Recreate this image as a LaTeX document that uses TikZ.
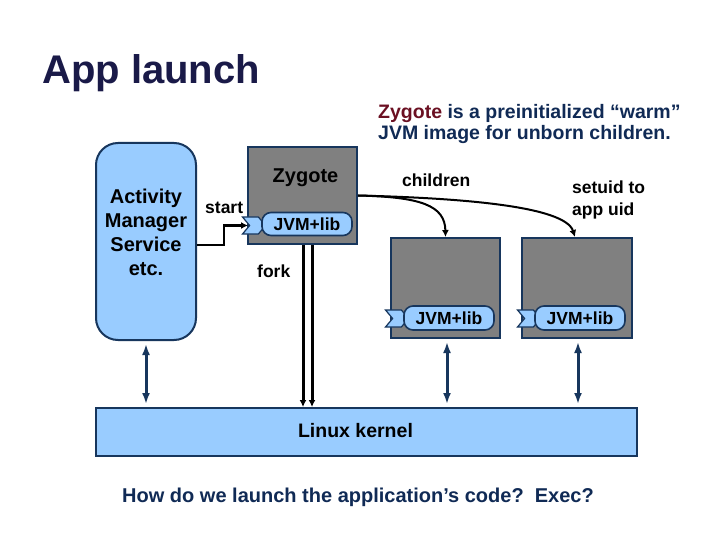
\documentclass[tikz,border=0pt]{standalone}
\usepackage{fontspec}
\setmainfont{Liberation Sans}
\usetikzlibrary{arrows.meta,shapes.symbols,calc}
\definecolor{lblue}{HTML}{99CCFF}
\definecolor{navy}{HTML}{17365D}
\definecolor{boxgray}{HTML}{808080}
\definecolor{titlec}{HTML}{1A1A48}
\definecolor{textnavy}{HTML}{102A55}
\definecolor{zred}{HTML}{6B1022}
\begin{document}
\begin{tikzpicture}[x=1pt,y=-1pt,
  bluebox/.style={draw=navy,fill=lblue,line width=2pt,inner sep=0pt},
  graybox/.style={draw=navy,fill=boxgray,line width=2pt,inner sep=0pt},
  pill/.style={draw=navy,fill=lblue,line width=1.6pt,rounded corners=9pt,minimum width=90pt,minimum height=23pt,inner sep=0pt,font=\bfseries\fontsize{17.5}{20}\selectfont},
  chev/.style={signal,signal from=west,signal to=east,draw=navy,fill=lblue,line width=1.2pt,minimum width=23pt,minimum height=17pt,inner sep=0pt,signal pointer angle=100},
  lbl/.style={inner sep=0pt,font=\bfseries\fontsize{17.5}{22}\selectfont},
  conn/.style={line width=2.5pt,-{Latex[length=7pt,width=7pt]}},
  carrow/.style={line width=2pt,-{Latex[length=7pt,width=7pt]}},
  fork/.style={line width=3pt,-{Latex[length=7pt,width=7pt]}},
  biarrow/.style={draw=navy,line width=3pt,{Latex[length=11pt,width=8pt]}-{Latex[length=11pt,width=8pt]}}
]
\useasboundingbox (0,0) rectangle (720,540);
\fill[white] (0,0) rectangle (720,540);

% title
\node[anchor=base west,inner sep=0pt,text=titlec,font=\bfseries\fontsize{40}{44}\selectfont] (title) at (42,84) {App launch};

% top note
\node[anchor=north west,inner sep=0pt,align=left,text=textnavy,font=\bfseries\fontsize{19.5}{21.5}\selectfont] (note) at (378,104)
  {\textcolor{zred}{Zygote} is a preinitialized “warm”\\JVM image for unborn children.};

% boxes
\node[bluebox,rounded corners=22pt,minimum width=100pt,minimum height=197pt] (ams) at (146,241.5) {};
\node[inner sep=0pt,align=center,font=\bfseries\fontsize{20}{24}\selectfont] (amst) at (146,232) {Activity\\Manager\\Service\\etc.};
\node[graybox,minimum width=109pt,minimum height=97pt] (zyg) at (302.5,195.5) {};
\node[anchor=base,inner sep=0pt,font=\bfseries\fontsize{20}{24}\selectfont] (zygt) at (305.5,183) {Zygote};
\node[graybox,minimum width=109pt,minimum height=100pt] (c1) at (445.5,288) {};
\node[graybox,minimum width=110pt,minimum height=100pt] (c2) at (577,288) {};
\node[bluebox,minimum width=541pt,minimum height=48pt] (kern) at (366.5,432) {};
\node[inner sep=0pt,font=\bfseries\fontsize{19.5}{22}\selectfont] (kernt) at (355.5,431) {Linux kernel};

% chevrons and pills
\node[chev] (zch) at (254,225.5) {};
\node[pill] (zp) at (307,224) {JVM+lib};
\node[chev] (c1ch) at (397,318.5) {};
\node[pill,minimum height=24pt] (c1p) at (449,318) {JVM+lib};
\node[chev] (c2ch) at (529,318.5) {};
\node[pill,minimum height=24pt] (c2p) at (580,318) {JVM+lib};

% labels
\node[lbl,anchor=base west] (start) at (205,214) {start};
\node[lbl,anchor=base west] (forkl) at (257,277) {fork};
\node[lbl,anchor=base west] (child) at (402,187) {children};
\node[lbl,anchor=north west,align=left] (setuid) at (572,181) {setuid to\\app uid};

% helper coordinates
\coordinate (f1) at ($(zyg.south)+(0.5,0)$);
\coordinate (f2) at ($(zyg.south)+(9.5,0)$);
\coordinate (d0) at ($(ams.south)+(0,3)$);
\coordinate (d1) at ($(c1.south)+(1.5,3)$);
\coordinate (d2) at ($(c2.south)+(1,3)$);
\coordinate (k0) at ($(d0 |- kern.north)+(0,-3)$);
\coordinate (k1) at ($(d1 |- kern.north)+(0,-3)$);
\coordinate (k2) at ($(d2 |- kern.north)+(0,-3)$);
\coordinate (zin) at ($(zch.center)+(-6,0)$);
\coordinate (c2in) at ($(c2.north)+(-2,0)$);

% connectors
\draw[conn] ([yshift=-3.5pt]ams.east) -- ++(27,0) |- (zin);
\draw[carrow] (zyg.east) .. controls (420,197) and (445,205) .. (c1.north);
\draw[carrow] (zyg.east) .. controls (460,198) and (565,206) .. (c2in);
\draw[fork] (f1) -- (f1 |- kern.north);
\draw[fork] (f2) -- (f2 |- kern.north);
\draw[biarrow] (d0) -- (k0);
\draw[biarrow] (d1) -- (k1);
\draw[biarrow] (d2) -- (k2);

% bottom question
\node[anchor=base west,inner sep=0pt,text=textnavy,font=\bfseries\fontsize{20}{24}\selectfont] (q) at (122,502) {How do we launch the application’s code?\ \ Exec?};
\end{tikzpicture}
\end{document}
